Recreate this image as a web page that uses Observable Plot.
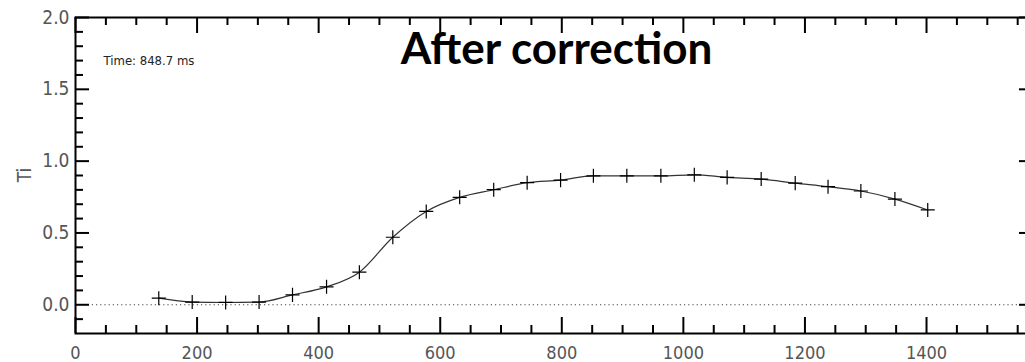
<!DOCTYPE html>
<html>
<head>
<meta charset="utf-8">
<script src="https://cdn.jsdelivr.net/npm/d3@7"></script>
<script src="https://cdn.jsdelivr.net/npm/@observablehq/plot@0.6"></script>
<style>
  html, body { margin: 0; padding: 0; background: #fff; overflow: hidden; }
  #chart svg { display: block; max-width: none !important; }
</style>
</head>
<body>
<div id="chart"></div>
<script>
// Data
const radius = [137, 192, 247, 302, 357, 413, 467, 522, 577, 632, 688, 743, 798, 852, 907, 963, 1018, 1072, 1128, 1184, 1238, 1292, 1348, 1402];
const ti     = [0.046, 0.019, 0.016, 0.019, 0.069, 0.125, 0.227, 0.470, 0.650, 0.748, 0.801, 0.850, 0.868, 0.898, 0.898, 0.898, 0.905, 0.887, 0.875, 0.847, 0.822, 0.792, 0.736, 0.660];
const xMajor = [0, 200, 400, 600, 800, 1000, 1200, 1400];
const xMinor = d3.range(0, 1576, 50).filter(v => v % 200 !== 0);
const yMajor = [0, 0.5, 1.0, 1.5, 2.0];
const yMinor = [-0.1, 0.1, 0.2, 0.3, 0.4, 0.6, 0.7, 0.8, 0.9, 1.1, 1.2, 1.3, 1.4, 1.6, 1.7, 1.8, 1.9];
const yLabel = "Ti";
const title = "After correction";
const timeNote = "Time: 848.7 ms";

const data = radius.map((r, i) => ({r, ti: ti[i]}));

const W = 1040, H = 362;
const mL = 75, mR = 7, mT = 17, mB = 29;
const fw = W - mL - mR, fh = H - mT - mB;
const labelFont = '"DejaVu Sans Condensed", "DejaVu Sans", sans-serif';

const chart = Plot.plot({
  width: W,
  height: H,
  marginLeft: mL, marginRight: mR, marginTop: mT, marginBottom: mB,
  style: {fontFamily: labelFont, fontStretch: "condensed", background: "#fff", maxWidth: "none"},
  x: {domain: [0, 1576]},
  y: {domain: [-0.2, 2.0]},
  marks: [
    Plot.ruleY([0], {stroke: "#444", strokeWidth: 1.2, strokeDasharray: "1.2,3"}),
    // bottom ticks
    Plot.ruleX(xMajor, {x: d => d, insetTop: fh - 16, stroke: "black", strokeWidth: 2}),
    Plot.ruleX(xMinor, {x: d => d, insetTop: fh - 8, stroke: "black", strokeWidth: 2}),
    // top ticks
    Plot.ruleX(xMajor, {x: d => d, insetBottom: fh - 16, stroke: "black", strokeWidth: 2}),
    Plot.ruleX(xMinor, {x: d => d, insetBottom: fh - 8, stroke: "black", strokeWidth: 2}),
    // left ticks
    Plot.ruleY(yMajor, {y: d => d, insetRight: fw - 14, stroke: "black", strokeWidth: 2}),
    Plot.ruleY(yMinor, {y: d => d, insetRight: fw - 8, stroke: "black", strokeWidth: 2}),
    // right ticks
    Plot.ruleY(yMajor, {y: d => d, insetLeft: fw - 14, stroke: "black", strokeWidth: 2}),
    Plot.ruleY(yMinor, {y: d => d, insetLeft: fw - 8, stroke: "black", strokeWidth: 2}),
    Plot.frame({stroke: "black", strokeWidth: 2}),
    Plot.axisX(xMajor, {tickSize: 0, tickPadding: 13, fontSize: 18, fill: "#555", label: null, tickFormat: d => String(d)}),
    Plot.axisY(yMajor, {tickSize: 0, tickPadding: 6, fontSize: 19, fill: "#555", label: null, tickFormat: d => d.toFixed(1)}),
    Plot.line(data, {x: "r", y: "ti", stroke: "#333", strokeWidth: 1.2, curve: "monotone-x"}),
    Plot.dot(data, {x: "r", y: "ti", symbol: "plus", r: 4.6, stroke: "black", strokeWidth: 1.2}),
    Plot.text([title], {frameAnchor: "top", dx: 2, dy: 32, lineAnchor: "middle", fontSize: 44, fontWeight: "bold", fontFamily: "Lato, 'Open Sans', sans-serif", fill: "black"}),
    Plot.text([timeNote], {frameAnchor: "top-left", textAnchor: "start", dx: 28, dy: 43.5, lineAnchor: "middle", fontSize: 13, fill: "#222"})
  ]
});

// y-axis label "Ti"
const svg = d3.select(chart);
svg.append("text")
  .attr("transform", "translate(31,175) rotate(-90)")
  .attr("text-anchor", "middle")
  .attr("font-family", labelFont)
  .attr("font-stretch", "condensed")
  .attr("font-size", 19)
  .attr("fill", "#555")
  .text(yLabel);

document.getElementById("chart").appendChild(chart);
</script>
</body>
</html>
